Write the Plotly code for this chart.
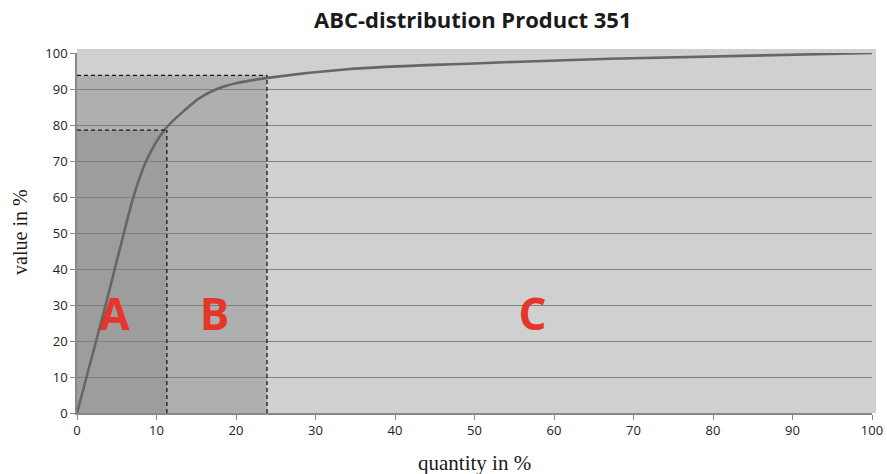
import plotly.graph_objects as go

# Cumulative ABC curve: share of quantity (%) vs. share of value (%)
quantity_pct = [0, 1.2, 2.4, 3.6, 4.75, 5.9, 7.1, 8.7, 11.0, 13.8, 15.5, 17.6, 20.0,
                24.0, 34.0, 50.0, 67.0, 100.0]
value_pct = [0, 10, 20, 30, 40, 50, 60, 70, 78.6, 84.6, 87.6, 90.0, 91.6,
             93.1, 95.5, 97.1, 98.4, 100.0]

# Class boundaries (quantity %, value %)
a_limit = (11.3, 78.6)
b_limit = (23.9, 93.8)

class_labels = ["A", "B", "C"]
class_label_x = [4.7, 17.3, 57.3]
class_label_y = [26.0, 26.0, 26.0]

x_ticks = list(range(0, 101, 10))
y_ticks = list(range(0, 101, 10))

serif = dict(family="Liberation Serif, serif", size=20, color="#1a1a1a")

fig = go.Figure()

fig.add_trace(go.Scatter(
    x=quantity_pct, y=value_pct, mode="lines",
    line=dict(color="#666666", width=2.6, shape="spline", smoothing=1.0),
    hoverinfo="skip", showlegend=False,
))

fig.add_trace(go.Scatter(
    x=class_label_x, y=class_label_y, mode="text", text=class_labels,
    textfont=dict(family="Open Sans, Lato, sans-serif", size=44, color="#e4362a",
                  weight="bold"),
    textposition="middle center", hoverinfo="skip", showlegend=False,
))

shapes = [
    # light background of the whole plotting area
    dict(type="rect", xref="paper", yref="paper", x0=0, x1=1.005, y0=0, y1=1.011,
         fillcolor="#d0d0d0", line_width=0, layer="below"),
    # class B zone
    dict(type="rect", xref="x", yref="y", x0=0, x1=b_limit[0], y0=0, y1=b_limit[1],
         fillcolor="#aeafaf", line_width=0, layer="below"),
    # class A zone
    dict(type="rect", xref="x", yref="y", x0=0, x1=a_limit[0], y0=0, y1=a_limit[1],
         fillcolor="#9c9d9c", line_width=0, layer="below"),
]
for qx, vy in (a_limit, b_limit):
    shapes.append(dict(type="line", xref="x", yref="y", x0=0, x1=qx, y0=vy, y1=vy,
                       line=dict(color="#1a1a1a", width=1.3, dash="4px,3px")))
    shapes.append(dict(type="line", xref="x", yref="y", x0=qx, x1=qx, y0=0, y1=vy,
                       line=dict(color="#1a1a1a", width=1.3, dash="4px,3px")))

# Axis titles placed as annotations so the plotting area keeps its margins
annotations = [
    dict(text="quantity in %", xref="paper", yref="paper", x=0.5, y=0,
         xanchor="center", yanchor="middle", yshift=-50, showarrow=False,
         font=dict(serif, size=21)),
    dict(text="value in %", xref="paper", yref="paper", x=0, y=0.503,
         xanchor="center", yanchor="middle", xshift=-57, textangle=-90,
         showarrow=False, font=serif),
]

fig.update_layout(
    width=887, height=474,
    margin=dict(l=77, r=15, t=53, b=61),
    paper_bgcolor="white", plot_bgcolor="rgba(0,0,0,0)",
    shapes=shapes, annotations=annotations,
    title=dict(text="<b>ABC-distribution Product 351</b>", x=0.533, xanchor="center",
               y=0.957, yanchor="middle",
               font=dict(family="Open Sans, Lato, sans-serif", size=22, color="#1a1a1a")),
    font=dict(family="Open Sans, Lato, sans-serif", size=13, color="#222222"),
    xaxis=dict(range=[0, 100], tickvals=x_ticks, ticks="outside", ticklen=5,
               tickcolor="#888888", showline=True, linecolor="#888888", linewidth=1.5,
               showgrid=False, zeroline=False, fixedrange=True, automargin=False),
    yaxis=dict(range=[0, 100], tickvals=y_ticks, ticks="outside", ticklen=5,
               tickcolor="#888888", showline=True, linecolor="#888888", linewidth=1.5,
               showgrid=True, gridcolor="#808080", gridwidth=1, zeroline=False,
               fixedrange=True, automargin=False),
)

fig.write_html("out.html")
